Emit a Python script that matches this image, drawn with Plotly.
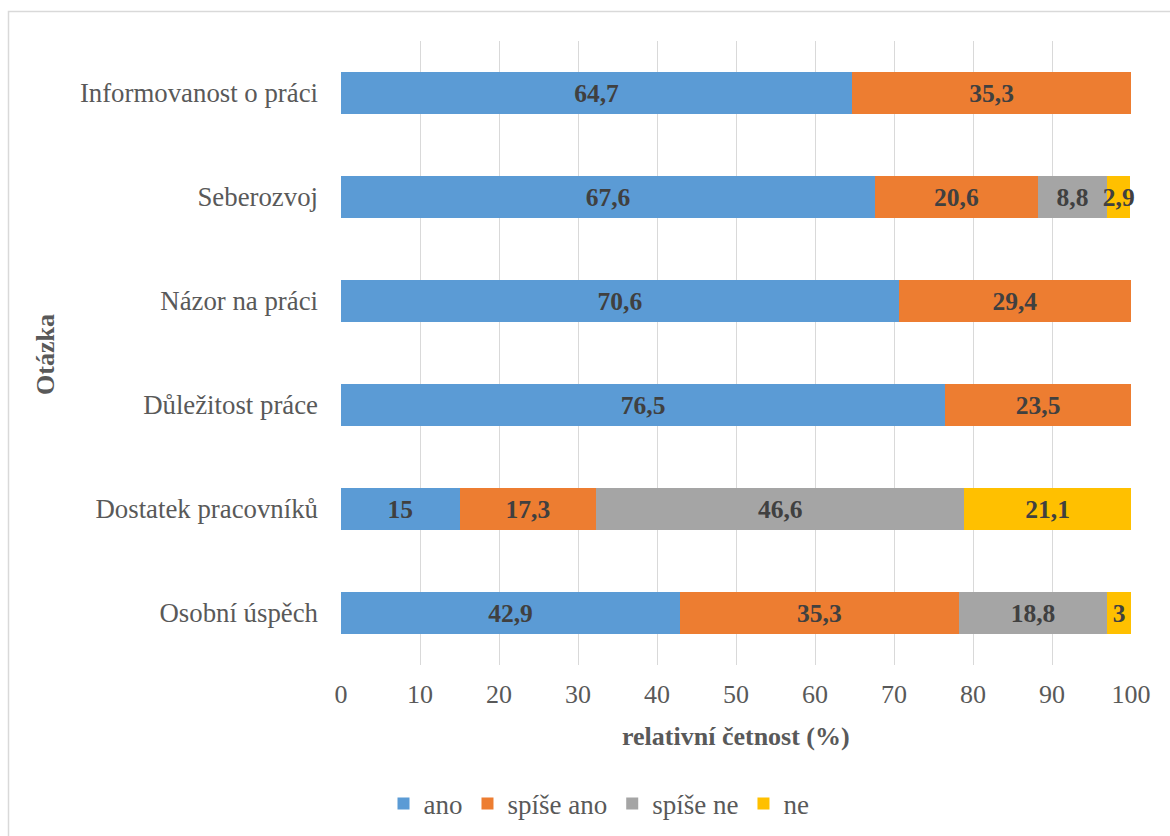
import plotly.graph_objects as go

categories = ["Osobní úspěch", "Dostatek pracovníků", "Důležitost práce",
              "Názor na práci", "Seberozvoj", "Informovanost o práci"]
ano = [42.9, 15, 76.5, 70.6, 67.6, 64.7]
spise_ano = [35.3, 17.3, 23.5, 29.4, 20.6, 35.3]
spise_ne = [18.8, 46.6, None, None, 8.8, None]
ne = [3, 21.1, None, None, 2.9, None]

series = [("ano", ano, "#5b9bd5"), ("spíše ano", spise_ano, "#ed7d31"),
          ("spíše ne", spise_ne, "#a5a5a5"), ("ne", ne, "#ffc000")]

W, H = 1170, 836
L, R, T, B = 341, 1131, 41, 665
FONT = "Liberation Serif"
FS = 26

def fmt(v):
    if v is None:
        return ""
    return ("%g" % v).replace(".", ",")

fig = go.Figure()
for name, vals, col in series:
    fig.add_trace(go.Bar(
        y=categories, x=vals, name=name, orientation="h",
        marker=dict(color=col, line=dict(width=0)),
        text=[fmt(v) for v in vals], texttemplate="<b>%{text}</b>",
        textposition="inside", insidetextanchor="middle", textangle=0,
        textfont=dict(family=FONT, size=25.5, color="#404040"),
        constraintext="none", cliponaxis=False,
        hoverinfo="skip",
    ))

def px_x(p):
    return (p - L) / (R - L)

def px_y(p):
    return (B - p) / (B - T)

fig.update_layout(
    width=W, height=H,
    margin=dict(l=L, r=W - R, t=T, b=H - B, autoexpand=False),
    barmode="stack", bargap=0.6,
    plot_bgcolor="white", paper_bgcolor="white",
    font=dict(family=FONT, size=FS, color="#595959"),
    uniformtext=dict(mode="show", minsize=25),
    showlegend=True,
    legend=dict(orientation="h", x=px_x(599), xanchor="center", y=px_y(804), yanchor="middle",
                font=dict(family=FONT, size=27, color="#595959"),
                itemwidth=30, traceorder="normal", itemclick=False),
    xaxis=dict(range=[0, 100], dtick=10, showgrid=True, gridcolor="#d9d9d9", gridwidth=1,
               zeroline=False, showline=False, ticks="", ticklabelstandoff=11,
               automargin=False,
               tickfont=dict(family=FONT, size=FS, color="#595959")),
    yaxis=dict(categoryorder="array", categoryarray=categories, showgrid=False,
               zeroline=False, showline=False, ticks="", ticklabelstandoff=22,
               automargin=False,
               tickfont=dict(family=FONT, size=26.8, color="#595959")),
    separators=",.",
    shapes=[dict(type="rect", xref="paper", yref="paper",
                 x0=px_x(8.5), x1=px_x(1180), y0=px_y(850), y1=px_y(11.5),
                 line=dict(color="#d9d9d9", width=1.5), layer="below")],
    annotations=[
        dict(text="<b>Otázka</b>", xref="paper", yref="paper",
             x=px_x(45), y=px_y(355), textangle=-90, showarrow=False,
             xanchor="center", yanchor="middle",
             font=dict(family=FONT, size=FS, color="#595959")),
        dict(text="<b>relativní četnost (%)</b>", xref="paper", yref="paper",
             x=0.5, y=px_y(736), showarrow=False,
             xanchor="center", yanchor="middle",
             font=dict(family=FONT, size=FS, color="#595959")),
    ],
)

fig.write_html("out.html")
